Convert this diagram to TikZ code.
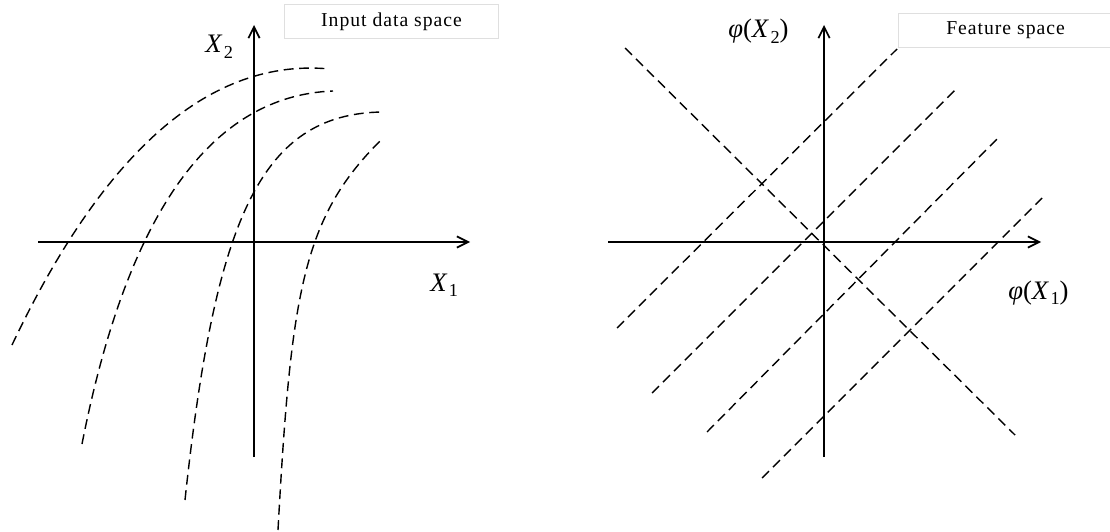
\documentclass[tikz,border=0pt]{standalone}
\usepackage{fontspec}
\setmainfont{Liberation Serif}
\usetikzlibrary{arrows.meta}

\newcommand{\xvar}[1]{\textit{X}\kern1pt\raisebox{-0.45ex}{\fontsize{13}{15}\selectfont #1}}
\newcommand{\phivar}[1]{\textit{φ}(\xvar{#1})}

\begin{document}
\begin{tikzpicture}[
  x=0.025cm, y=-0.025cm,
  >={Straight Barb[length=8pt,width=8pt]},
  every node/.style={font=\fontsize{19}{22}\selectfont, inner sep=0pt},
  axis/.style={line width=1.2pt},
  bound/.style={line width=1pt, dash pattern=on 7pt off 4pt},
  box/.style={draw=gray!25, line width=0.6pt,
    minimum width=5.33cm, minimum height=0.85cm,
    font={\fontsize{14}{16}\selectfont\addfontfeature{LetterSpace=5}}}
]
  \useasboundingbox (0,0) rectangle (1110,532);

  % input data space
  \coordinate (inW) at (38,242);
  \coordinate (inE) at (470,242);
  \coordinate (inS) at (254,457);
  \coordinate (inN) at (254,25);
  \draw[axis,->] (inW) -- (inE);
  \draw[axis,->] (inS) -- (inN);
  \node[anchor=base west] (inX2) at (205,53) {\xvar{2}};
  \node[anchor=base west] (inX1) at (430,291) {\xvar{1}};
  \node[box] (inbox) at (391.5,21.5) {Input data space};

  \draw[bound] (12,345) .. controls (104.7,149.7) and (210.7,57.7) .. (330,69);
  \draw[bound] (82,444) .. controls (127.3,213.3) and (211,95.7) .. (333,91);
  \draw[bound] (185,500) .. controls (215,220) and (260,114) .. (382,112);
  \draw[bound] (278,530) .. controls (291,292) and (303,218) .. (380,141);

  % feature space
  \coordinate (ftW) at (608,242);
  \coordinate (ftE) at (1041,242);
  \coordinate (ftS) at (824,457);
  \coordinate (ftN) at (824,25);
  \draw[axis,->] (ftW) -- (ftE);
  \draw[axis,->] (ftS) -- (ftN);
  \node[anchor=base west] (ftX2) at (728,38) {\phivar{2}};
  \node[anchor=base west] (ftX1) at (1008,299) {\phivar{1}};
  \node[box] (ftbox) at (1005.5,30.5) {Feature space};

  \draw[bound] (625,48) -- (1015,435);
  \draw[bound] (617,328) -- (897,49);
  \draw[bound] (652,393) -- (955,90);
  \draw[bound] (707,432) -- (998,138);
  \draw[bound] (762,478) -- (1042,198);
\end{tikzpicture}
\end{document}
